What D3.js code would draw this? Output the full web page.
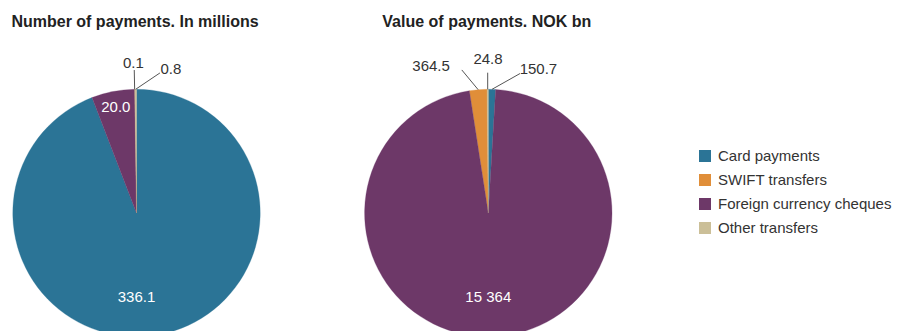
<!DOCTYPE html>
<html>
<head>
<meta charset="utf-8">
<script src="https://cdn.jsdelivr.net/npm/d3@7"></script>
<style>
  html, body { margin: 0; padding: 0; background: #fff; }
  svg { display: block; font-family: "Liberation Sans", Arial, sans-serif; }
</style>
</head>
<body>
<svg id="chart" width="904" height="331"></svg>
<script>
// ---- data ----
const categories = ["Card payments", "SWIFT transfers", "Foreign currency cheques", "Other transfers"];
const numberOfPayments = [336.1, 0.1, 20.0, 0.8];      // millions
const valueOfPayments  = [150.7, 364.5, 15364, 24.8];  // NOK bn
const chartTitles = ["Number of payments. In millions", "Value of payments. NOK bn"];
const sliceOrder = [0, 2, 1, 3]; // clockwise drawing order of categories

// ---- styles / layout ----
const colors = ["#2b7496", "#e08e39", "#6d3868", "#cbbf98"];
const W = 904, H = 331;
const pieRadius = 123.7;
const pieCenters = [[136.5, 213], [488.3, 213]];
// label placement per pie, per category: polar [angleDeg (null = slice mid angle), distance],
// connector: [angleDeg, distance] of the line end (outside labels only)
const labelLayouts = [
  [
    { inside: true,  text: [180, 83] },
    { inside: false, text: [-1.2, 150.5], line: [-0.9, 143] },
    { inside: true,  text: [null, 108.5] },
    { inside: false, text: [13.4, 148.6], line: [9.5, 142] }
  ],
  [
    { inside: false, text: [19.2, 152.5], line: [12.8, 143] },
    { inside: false, text: [-21.2, 158.2], line: [-10.5, 145.5] },
    { inside: true,  text: [180, 83] },
    { inside: false, text: [-0.1, 154.8], line: [-0.25, 140.3] }
  ]
];

const locale = d3.formatLocale({ decimal: ".", thousands: "\u00a0", grouping: [3], currency: ["", ""] });
const fmtBig = locale.format(",.0f");
const fmtSmall = locale.format(".1f");
const fmt = v => (v >= 1000 ? fmtBig(v) : fmtSmall(v));

const svg = d3.select("#chart");
const color = d3.scaleOrdinal().domain(categories).range(colors);

const pie = d3.pie()
  .value(d => d.value)
  .sort((a, b) => sliceOrder.indexOf(a.index) - sliceOrder.indexOf(b.index))
  .startAngle(0).endAngle(2 * Math.PI);
const arc = d3.arc().innerRadius(0).outerRadius(pieRadius);

function polar(c, angDeg, dist) {
  const a = angDeg * Math.PI / 180;
  return [c[0] + dist * Math.sin(a), c[1] - dist * Math.cos(a)];
}

[numberOfPayments, valueOfPayments].forEach((values, p) => {
  const c = pieCenters[p];
  const data = values.map((v, i) => ({ index: i, name: categories[i], value: v }));
  const arcs = pie(data);

  const g = svg.append("g").attr("transform", `translate(${c[0]},${c[1]})`);
  g.selectAll("path")
    .data(arcs)
    .join("path")
    .attr("d", arc)
    .attr("fill", d => color(d.data.name))
    .attr("stroke", d => color(d.data.name))
    .attr("stroke-width", 0.3);

  // labels
  arcs.forEach(d => {
    const L = labelLayouts[p][d.data.index];
    const mid = (d.startAngle + d.endAngle) / 2 * 180 / Math.PI;
    const ang = L.text[0] === null ? mid : L.text[0];
    const tp = polar(c, ang, L.text[1]);
    if (!L.inside) {
      const start = polar(c, mid, pieRadius);
      const end = polar(c, L.line[0], L.line[1]);
      svg.append("line")
        .attr("x1", start[0]).attr("y1", start[1])
        .attr("x2", end[0]).attr("y2", end[1])
        .attr("stroke", "#555").attr("stroke-width", 1);
    }
    svg.append("text")
      .attr("x", tp[0]).attr("y", tp[1])
      .attr("text-anchor", "middle")
      .attr("dominant-baseline", "central")
      .attr("font-size", 15)
      .attr("fill", L.inside ? "#ffffff" : "#333333")
      .text(fmt(d.data.value));
  });

  svg.append("text")
    .attr("x", c[0] - 1.5).attr("y", 27)
    .attr("text-anchor", "middle")
    .attr("font-size", 16)
    .attr("font-weight", "bold")
    .attr("fill", "#222")
    .text(chartTitles[p]);
});

// legend
const legend = svg.append("g").attr("transform", "translate(699,150)");
const rows = legend.selectAll("g").data(categories).join("g")
  .attr("transform", (d, i) => `translate(0,${i * 24})`);
rows.append("rect").attr("width", 12).attr("height", 12).attr("fill", d => color(d));
rows.append("text").attr("x", 19).attr("y", 11).attr("font-size", 15).attr("fill", "#333").text(d => d);
</script>
</body>
</html>
